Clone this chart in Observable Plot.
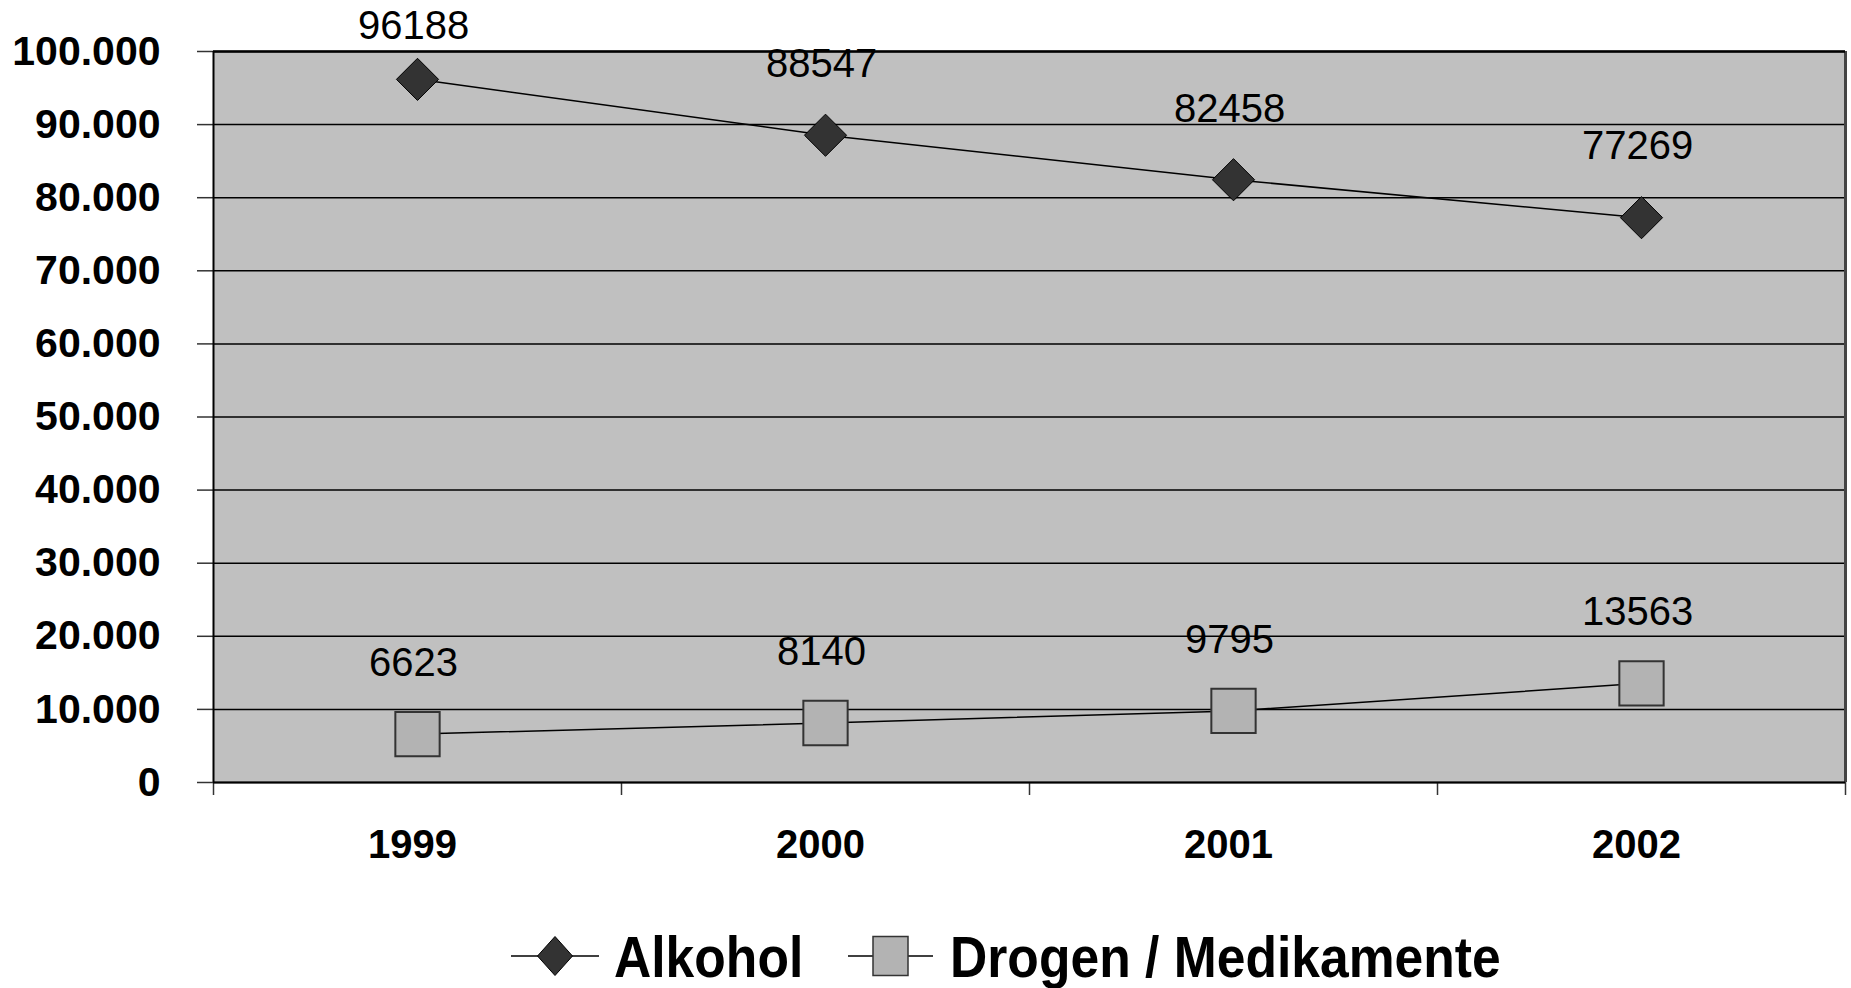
<!DOCTYPE html>
<html>
<head>
<meta charset="utf-8">
<script src="https://cdn.jsdelivr.net/npm/d3@7"></script>
<script src="https://cdn.jsdelivr.net/npm/@observablehq/plot@0.6"></script>
<style>
  html, body { margin: 0; padding: 0; background: #ffffff; }
  body { width: 1851px; height: 988px; overflow: hidden; font-family: "Liberation Sans", Arial, sans-serif; }
  #legend { display: flex; align-items: center; height: 160px; padding-left: 511px; }
  #legend .label { display: inline-block; font-size: 58px; font-weight: bold; color: #000; transform: scaleX(0.89); transform-origin: left center; white-space: nowrap; }
</style>
</head>
<body>
<div id="chart"></div>
<div id="legend"></div>
<script>
// Fälle nach Hauptdiagnose, 1999–2002
const years = [1999, 2000, 2001, 2002];
const alkohol = [96188, 88547, 82458, 77269];
const drogen = [6623, 8140, 9795, 13563];
const seriesNames = ["Alkohol", "Drogen / Medikamente"];
const yTicks = [0, 10000, 20000, 30000, 40000, 50000, 60000, 70000, 80000, 90000, 100000];

// German number format: 100.000
const de = d3.formatLocale({decimal: ",", thousands: ".", grouping: [3], currency: ["", " €"]});
const fmt = de.format(",");

const rows = years.flatMap((year, i) => [
  {year, series: seriesNames[0], value: alkohol[i]},
  {year, series: seriesNames[1], value: drogen[i]}
]);
const alkRows = rows.filter(d => d.series === seriesNames[0]);
const drgRows = rows.filter(d => d.series === seriesNames[1]);

// category boundaries for the x tick marks
const boundaries = years.map(y => y - 0.5).concat([years[years.length - 1] + 0.5]);
// keep value labels inside the plot frame
const labelCeiling = 93800;

const chart = Plot.plot({
  width: 1851,
  height: 876,
  marginLeft: 213,
  marginTop: 51,
  marginRight: 6,
  marginBottom: 94,
  style: {fontFamily: "'Liberation Sans', Arial, sans-serif", background: "#ffffff", overflow: "visible"},
  x: {type: "linear", domain: [boundaries[0], boundaries[boundaries.length - 1]], label: null},
  y: {domain: [0, 100000], label: null},
  marks: [
    Plot.frame({fill: "#c0c0c0", stroke: null}),
    Plot.gridY(yTicks, {stroke: "#000", strokeOpacity: 1, strokeWidth: 1.5}),
    Plot.axisY(yTicks, {label: null, tickSize: 16, tickPadding: 37, tickFormat: fmt, fontSize: 41, fontWeight: "bold", stroke: "#333", strokeWidth: 1.5, fill: "#000"}),
    Plot.axisX(years, {label: null, tickSize: 0, tickPadding: 47, dx: -5, tickFormat: d => String(d), fontSize: 40, fontWeight: "bold", fill: "#000"}),
    Plot.axisX(boundaries, {label: null, tickSize: 13, tickFormat: () => "", stroke: "#333", strokeWidth: 1.5}),
    Plot.ruleX([boundaries[0]], {stroke: "#000", strokeWidth: 2}),
    Plot.ruleX([boundaries[boundaries.length - 1]], {stroke: "#444", strokeWidth: 3}),
    Plot.ruleY([0], {stroke: "#000", strokeWidth: 2}),
    Plot.ruleY([100000], {stroke: "#000", strokeWidth: 2.5}),
    Plot.line(rows, {x: "year", y: "value", z: "series", stroke: "#000", strokeWidth: 1.5}),
    Plot.dot(alkRows, {x: "year", y: "value", symbol: "diamond2", r: 19, fill: "#333333", stroke: "#000", strokeWidth: 1}),
    Plot.dot(drgRows, {x: "year", y: "value", symbol: "square", r: 25, fill: "#b3b3b3", stroke: "#333", strokeWidth: 2}),
    Plot.text(rows, {
      x: "year",
      y: d => Math.min(d.value, labelCeiling),
      text: d => String(d.value),
      dy: -71, dx: -4,
      fontSize: 40, fill: "#000", lineAnchor: "middle"
    })
  ]
});
document.getElementById("chart").appendChild(chart);

// Legend: line swatch with symbol, then label
const legend = d3.select("#legend");
const swatches = [
  {name: seriesNames[0], shape: "diamond", width: 88, gapAfterSwatch: 15, gapAfterLabel: 45},
  {name: seriesNames[1], shape: "square", width: 85, gapAfterSwatch: 17, gapAfterLabel: 0}
];
swatches.forEach(s => {
  const svg = legend.append("svg")
    .attr("width", s.width).attr("height", 50)
    .style("margin-right", s.gapAfterSwatch + "px")
    .style("flex", "none");
  const cx = s.width / 2, cy = 25;
  svg.append("line").attr("x1", 0).attr("x2", s.width).attr("y1", cy).attr("y2", cy)
    .attr("stroke", "#000").attr("stroke-width", 1.5);
  if (s.shape === "diamond") {
    svg.append("path")
      .attr("d", `M${cx},${cy - 19.5}L${cx + 17.5},${cy}L${cx},${cy + 19.5}L${cx - 17.5},${cy}Z`)
      .attr("fill", "#333333").attr("stroke", "#000").attr("stroke-width", 1);
  } else {
    svg.append("rect").attr("x", cx - 17.5).attr("y", cy - 19.5).attr("width", 35).attr("height", 39)
      .attr("fill", "#b3b3b3").attr("stroke", "#333").attr("stroke-width", 1.5);
  }
  const label = legend.append("span").attr("class", "label").text(s.name);
  s.labelNode = label.node();
});
// compensate the horizontal squeeze of the labels in the flow layout
swatches.forEach(s => {
  const w = s.labelNode.offsetWidth;
  s.labelNode.style.marginRight = (s.gapAfterLabel - w * 0.11) + "px";
});
</script>
</body>
</html>
